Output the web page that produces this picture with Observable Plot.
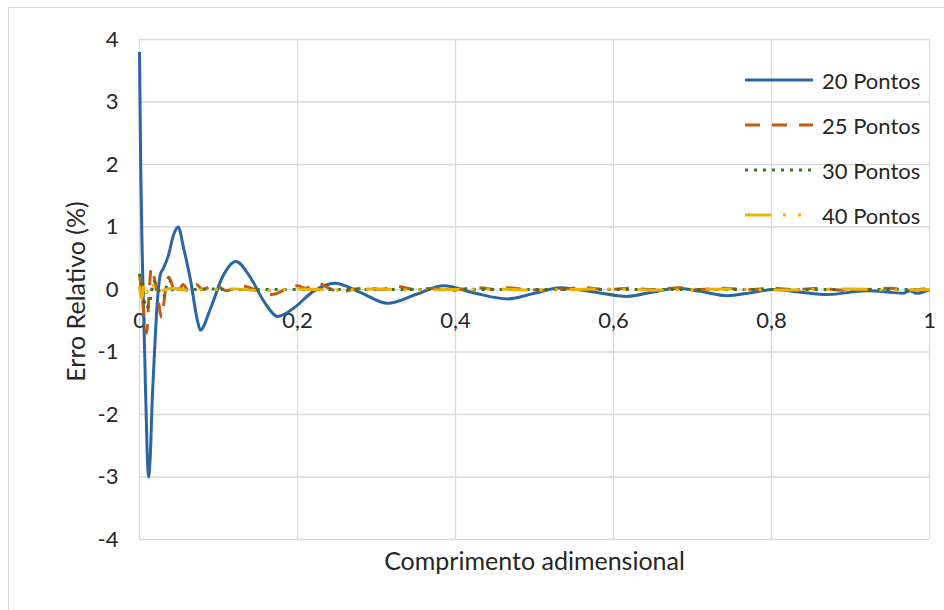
<!DOCTYPE html>
<html><head><meta charset="utf-8">
<script src="https://cdn.jsdelivr.net/npm/d3@7"></script>
<script src="https://cdn.jsdelivr.net/npm/@observablehq/plot@0.6"></script>
<style>
body{margin:0;background:#fff;overflow:hidden;font-family:Lato,sans-serif;}
#wrap{position:relative;width:944px;height:610px;overflow:hidden;}
#chart{position:absolute;left:0;top:0;}
#border{position:absolute;left:8px;top:7px;width:1000px;height:1000px;border:1.5px solid #d9d9d9;box-sizing:border-box;}
#legend{position:absolute;left:745px;top:0;}
.row{position:absolute;left:0;display:flex;align-items:center;height:26px;white-space:nowrap;font-size:22px;color:#262626;font-family:Lato,sans-serif;}
.row svg{margin-right:9px;}
</style></head>
<body>
<div id="wrap"><div id="border"></div><div id="chart"></div><div id="legend"></div></div>
<script>
// Axis ticks
const xTicks = [0, 0.2, 0.4, 0.6, 0.8, 1];
const xTickLabels = ["0", "0,2", "0,4", "0,6", "0,8", "1"];
const yTicks = [-4, -3, -2, -1, 0, 1, 2, 3, 4];

// Series names
const seriesNames = ["20 Pontos", "25 Pontos", "30 Pontos", "40 Pontos"];

// 20 Pontos
const x20 = [0, 0.0015, 0.0034, 0.0065, 0.0097, 0.0115, 0.0135, 0.016, 0.019, 0.0215, 0.0266, 0.030, 0.0367, 0.043, 0.049, 0.0557, 0.0646, 0.0734, 0.077, 0.09, 0.105, 0.122, 0.14, 0.158, 0.175, 0.195, 0.22, 0.247, 0.28, 0.314, 0.35, 0.385, 0.425, 0.466, 0.50, 0.533, 0.575, 0.617, 0.65, 0.681, 0.71, 0.744, 0.775, 0.803, 0.835, 0.871, 0.92, 0.955, 0.967, 0.975, 0.983, 1];
const y20 = [3.8, 2.0, 0.6, -1.0, -2.6, -3.0, -2.7, -1.8, -1.0, -0.4, 0.25, 0.33, 0.55, 0.87, 1.0, 0.67, 0.15, -0.5, -0.65, -0.3, 0.2, 0.45, 0.2, -0.2, -0.43, -0.3, -0.03, 0.1, -0.05, -0.22, -0.08, 0.06, -0.06, -0.15, -0.06, 0.03, -0.04, -0.11, -0.04, 0.02, -0.03, -0.1, -0.05, 0.0, -0.04, -0.08, -0.02, -0.05, -0.06, -0.02, -0.06, 0.0];

// 25 Pontos
const x25 = [0, 0.004, 0.009, 0.012, 0.015, 0.02, 0.024, 0.028, 0.033, 0.037, 0.042, 0.048, 0.055, 0.063, 0.072, 0.08, 0.095, 0.11, 0.13, 0.15, 0.168, 0.185, 0.2, 0.21, 0.225, 0.24, 0.255, 0.27, 0.29, 0.305, 0.325, 0.35, 0.37, 0.39, 0.41, 0.43, 0.45, 0.465, 0.49, 0.51, 0.535, 0.56, 0.59, 0.62, 0.65, 0.685, 0.71, 0.74, 0.77, 0.8, 0.83, 0.86, 0.89, 0.92, 0.95, 0.975, 1];
const y25 = [0.25, -0.2, -0.7, -0.1, 0.35, 0.1, -0.2, -0.45, 0.0, 0.2, 0.05, -0.08, 0.08, -0.04, 0.08, 0.0, 0.08, -0.02, 0.06, -0.02, -0.08, 0.0, 0.06, 0.02, 0.1, 0.02, -0.04, 0.0, 0.03, 0.0, 0.05, 0.0, 0.02, -0.02, 0.01, 0.03, 0.0, 0.03, 0.0, -0.01, 0.0, 0.03, 0.0, 0.02, 0.0, 0.03, 0.0, 0.02, 0.0, 0.02, 0.0, 0.02, -0.01, 0.0, 0.02, -0.01, 0.02];

// 30 Pontos
const x30 = [0, 0.004, 0.008, 0.013, 0.018, 0.024, 0.03, 0.037, 0.044, 0.052, 0.06, 0.08, 0.12, 0.2, 0.3, 0.4, 0.5, 0.6, 0.7, 0.8, 0.9, 1];
const y30 = [0.25, 0.05, -0.3, -0.2, 0.12, 0.0, -0.12, 0.15, -0.05, 0.03, -0.01, 0.01, 0.0, 0.0, 0.0, 0.0, 0.0, 0.0, 0.0, 0.0, 0.0, 0.0];

// 40 Pontos
const x40 = [0, 0.003, 0.006, 0.009, 0.012, 0.016, 0.02, 0.025, 0.03, 0.04, 0.06, 0.09, 0.12, 0.15, 0.2, 0.25, 0.3, 0.35, 0.4, 0.45, 0.5, 0.55, 0.6, 0.65, 0.7, 0.75, 0.8, 0.85, 0.9, 0.95, 1];
const y40 = [0.05, -0.15, 0.1, -0.05, 0.05, 0.12, -0.02, 0.02, -0.01, 0.02, -0.01, 0.0, 0.01, -0.02, 0.01, -0.01, 0.01, -0.01, 0.0, 0.01, -0.01, 0.0, 0.01, -0.01, 0.0, 0.01, -0.01, 0.0, 0.01, -0.01, 0.0];

const colors = ["#2b65a3", "#c55a11", "#38761d", "#f0b000"];
const dashes = [null, "15,12", "3,6", "26,12,3,12,3,12"];

const toRows = (xs, ys) => xs.map((x, i) => ({x, y: ys[i]}));
const seriesData = [toRows(x20, y20), toRows(x25, y25), toRows(x30, y30), toRows(x40, y40)];

const plot = Plot.plot({
  width: 944, height: 610,
  marginLeft: 139, marginRight: 15, marginTop: 39, marginBottom: 71,
  x: {domain: [0, 1], axis: null},
  y: {domain: [-4, 4], label: null},
  style: {fontFamily: "Lato, sans-serif", fontSize: "22px", color: "#262626", background: "transparent", overflow: "visible"},
  marks: [
    Plot.ruleY(yTicks, {stroke: "#d9d9d9", strokeWidth: 1.3, strokeOpacity: 1}),
    Plot.ruleX(xTicks, {stroke: "#d9d9d9", strokeWidth: 1.3, strokeOpacity: 1}),
    Plot.axisY({ticks: yTicks, tickSize: 0, tickPadding: 21, tickFormat: d => String(d), fontSize: 22, label: null}),
    Plot.text(xTicks, {x: d => d, y: () => 0, dy: 31, text: (d, i) => xTickLabels[i], fontSize: 22, fill: "#262626"}),
    Plot.text(["Comprimento adimensional"], {frameAnchor: "bottom", lineAnchor: "middle", textAnchor: "middle", dy: 22, text: d => d, fontSize: 25, fill: "#262626"}),
    Plot.text(["Erro Relativo (%)"], {frameAnchor: "left", textAnchor: "middle", lineAnchor: "middle", dx: -63, dy: 2, rotate: -90, text: d => d, fontSize: 25, fill: "#262626"}),
    ...seriesData.map((data, i) => Plot.line(data, {
      x: "x", y: "y", stroke: colors[i], strokeWidth: 3,
      strokeDasharray: dashes[i] ?? undefined,
      strokeLinecap: "butt", strokeLinejoin: "round",
      curve: "monotone-x"
    }))
  ]
});
document.getElementById("chart").appendChild(plot);

// Legend (inside plot, upper right)
const legend = document.getElementById("legend");
const rowCenters = [80, 125, 170, 215];
seriesNames.forEach((name, i) => {
  const row = document.createElement("div");
  row.className = "row";
  row.style.top = (rowCenters[i] - 13) + "px";
  const dash = dashes[i] ? `stroke-dasharray="${dashes[i]}"` : "";
  row.innerHTML = `<svg width="68" height="10"><line x1="0" y1="5" x2="68" y2="5" stroke="${colors[i]}" stroke-width="3" ${dash}/></svg><span>${name}</span>`;
  legend.appendChild(row);
});
</script>
</body></html>
